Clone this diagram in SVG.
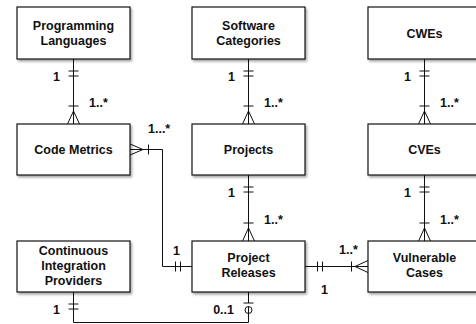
<svg xmlns="http://www.w3.org/2000/svg" width="476" height="324" viewBox="0 0 476 324">
<defs>
<filter id="sh" x="-10%" y="-10%" width="130%" height="140%">
<feDropShadow dx="1.5" dy="2" stdDeviation="1.3" flood-color="#000" flood-opacity="0.35"/>
</filter>
</defs>
<style>
.box{fill:#fff;stroke:#111;stroke-width:1.2;filter:url(#sh)}
.t{font-family:"Liberation Sans",Arial,Helvetica,sans-serif;font-weight:bold;font-size:12.5px;fill:#111;text-anchor:middle}
.l{font-family:"Liberation Sans",Arial,Helvetica,sans-serif;font-weight:bold;font-size:12.5px;fill:#111}
.c{fill:none;stroke:#111;stroke-width:1}
</style>
<rect width="476" height="324" fill="#fff"/>
<g id="connectors">
<!-- PL - CM -->
<path class="c" d="M73.5,59V124M68.5,71H78.5M68.5,76H78.5M68.5,106H78.5M73.5,111L67.5,124M73.5,111L79.5,124"/>
<text class="l" x="60" y="81" text-anchor="end">1</text>
<text class="l" x="89" y="107">1..*</text>
<!-- SC - Projects -->
<path class="c" d="M248.5,59V124M243.5,71H253.5M243.5,76H253.5M243.5,106H253.5M248.5,111L242.5,124M248.5,111L254.5,124"/>
<text class="l" x="235" y="81" text-anchor="end">1</text>
<text class="l" x="264" y="107">1..*</text>
<!-- CWEs - CVEs -->
<path class="c" d="M424.5,59V124M419.5,71H429.5M419.5,76H429.5M419.5,106H429.5M424.5,111L418.5,124M424.5,111L430.5,124"/>
<text class="l" x="411" y="81" text-anchor="end">1</text>
<text class="l" x="440" y="107">1..*</text>
<!-- Projects - PR -->
<path class="c" d="M248.5,175V241M243.5,187H253.5M243.5,192H253.5M243.5,223H253.5M248.5,228L242.5,241M248.5,228L254.5,241"/>
<text class="l" x="235" y="197" text-anchor="end">1</text>
<text class="l" x="264" y="224">1..*</text>
<!-- CVEs - VC -->
<path class="c" d="M424.5,175V241M419.5,187H429.5M419.5,192H429.5M419.5,223H429.5M424.5,228L418.5,241M424.5,228L430.5,241"/>
<text class="l" x="411" y="197" text-anchor="end">1</text>
<text class="l" x="440" y="224">1..*</text>
<!-- CM - PR -->
<path class="c" d="M130,149.5H162.5V266.5H192M143,149.5L130,144M143,149.5L130,155M148.5,144.5V154.5M175.5,261.5V271.5M180.5,261.5V271.5"/>
<text class="l" x="148" y="133">1...*</text>
<text class="l" x="173" y="255">1</text>
<!-- PR - VC -->
<path class="c" d="M305,266.5H368M317.5,261.5V271.5M322.5,261.5V271.5M351.5,261.5V271.5M355,266.5L368,260.5M355,266.5L368,272.5"/>
<text class="l" x="339" y="254">1..*</text>
<text class="l" x="321" y="294">1</text>
<!-- CI - PR -->
<path class="c" d="M73.5,292V322.5H248.5V306.5M248.5,292V303M68.5,304H78.5M68.5,309H78.5M243.5,303H253.5"/>
<circle class="c" cx="248.5" cy="310" r="3.5"/>
<text class="l" x="60" y="314" text-anchor="end">1</text>
<text class="l" x="234" y="314" text-anchor="end">0..1</text>
</g>
<g id="programming-languages">
<rect class="box" x="17" y="7" width="113" height="52"/>
<text class="t" x="73.5" y="29.5">Programming</text>
<text class="t" x="73.5" y="44.5">Languages</text>
</g>
<g id="software-categories">
<rect class="box" x="192" y="7" width="113" height="52"/>
<text class="t" x="248.5" y="29.5">Software</text>
<text class="t" x="248.5" y="44.5">Categories</text>
</g>
<g id="cwes">
<rect class="box" x="368" y="7" width="113" height="52"/>
<text class="t" x="424.5" y="37.5">CWEs</text>
</g>
<g id="code-metrics">
<rect class="box" x="17" y="124" width="113" height="51"/>
<text class="t" x="73.5" y="154">Code Metrics</text>
</g>
<g id="projects">
<rect class="box" x="192" y="124" width="113" height="51"/>
<text class="t" x="248.5" y="154">Projects</text>
</g>
<g id="cves">
<rect class="box" x="368" y="124" width="113" height="51"/>
<text class="t" x="424.5" y="154">CVEs</text>
</g>
<g id="ci-providers">
<rect class="box" x="17" y="241" width="113" height="51"/>
<text class="t" x="73.5" y="255">Continuous</text>
<text class="t" x="73.5" y="270">Integration</text>
<text class="t" x="73.5" y="285">Providers</text>
</g>
<g id="project-releases">
<rect class="box" x="192" y="241" width="113" height="51"/>
<text class="t" x="248.5" y="262">Project</text>
<text class="t" x="248.5" y="277">Releases</text>
</g>
<g id="vulnerable-cases">
<rect class="box" x="368" y="241" width="113" height="51"/>
<text class="t" x="424.5" y="262">Vulnerable</text>
<text class="t" x="424.5" y="277">Cases</text>
</g>
</svg>
